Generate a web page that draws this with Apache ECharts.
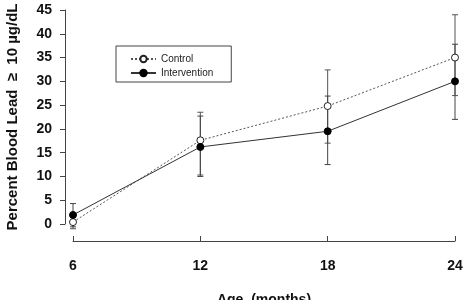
<!DOCTYPE html>
<html>
<head>
<meta charset="utf-8">
<script src="https://cdn.jsdelivr.net/npm/echarts@6/dist/echarts.min.js"></script>
<style>html,body{margin:0;padding:0;background:#fff;}#c{width:466px;height:300px;}</style>
</head>
<body>
<div id="c"></div>
<script>
var months = [6, 12, 18, 24];
var xTicks = ['6', '12', '18', '24'];
var control = [0.4, 17.6, 24.8, 35.0];
var controlLow = [-1.0, 10.3, 17.0, 27.0];
var controlHigh = [1.5, 23.5, 32.4, 44.0];
var intervention = [1.9, 16.2, 19.5, 30.0];
var interventionLow = [-0.6, 10.0, 12.5, 22.0];
var interventionHigh = [4.3, 22.7, 26.9, 37.8];

var FONT = '"Liberation Sans", Arial, Helvetica, sans-serif';

function pairs(ys) { return months.map(function (m, i) { return [m, ys[i]]; }); }
function bars(lo, hi) { return months.map(function (m, i) { return [m, lo[i], hi[i]]; }); }

function errRender(color) {
  return function (params, api) {
    var x = api.value(0);
    var p1 = api.coord([x, api.value(1)]);
    var p2 = api.coord([x, api.value(2)]);
    var w = 3;
    var st = { stroke: color, lineWidth: 1 };
    return {
      type: 'group',
      children: [
        { type: 'line', shape: { x1: p1[0], y1: p1[1], x2: p2[0], y2: p2[1] }, style: st },
        { type: 'line', shape: { x1: p1[0] - w, y1: p1[1], x2: p1[0] + w, y2: p1[1] }, style: st },
        { type: 'line', shape: { x1: p2[0] - w, y1: p2[1], x2: p2[0] + w, y2: p2[1] }, style: st }
      ]
    };
  };
}

var chart = echarts.init(document.getElementById('c'), null, { renderer: 'canvas' });
chart.setOption({
  animation: false,
  backgroundColor: '#fff',
  textStyle: { fontFamily: FONT },
  grid: { left: 73, right: 11, top: 10, bottom: 76, containLabel: false, outerBoundsMode: 'none' },
  legend: {
    left: 116, top: 46, orient: 'vertical',
    data: ['Control', 'Intervention'],
    itemWidth: 25, itemHeight: 8, itemGap: 4,
    padding: [8, 18, 4, 14],
    borderColor: '#444', borderWidth: 1,
    textStyle: { fontFamily: FONT, fontSize: 10, color: '#222' },
    selectedMode: false
  },
  xAxis: {
    type: 'value', min: 6, max: 24, interval: 6,
    offset: 17,
    axisLine: { show: true, onZero: false, lineStyle: { color: '#444', width: 1 } },
    axisTick: { show: true, inside: true, length: 5, lineStyle: { color: '#444' } },
    axisLabel: {
      margin: 18, fontSize: 14, fontWeight: 'bold', color: '#111', fontFamily: FONT,
      formatter: function (v) { var i = months.indexOf(v); return i >= 0 ? xTicks[i] : ''; }
    },
    splitLine: { show: false },
    name: 'Age  (months)', nameLocation: 'middle', nameGap: 52,
    nameTextStyle: { fontSize: 14, fontWeight: 'bold', color: '#111', fontFamily: FONT }
  },
  yAxis: {
    type: 'value', min: 0, max: 45, interval: 5,
    offset: 8,
    axisLine: { show: true, onZero: false, lineStyle: { color: '#444', width: 1 } },
    axisTick: { show: true, inside: false, length: 5, lineStyle: { color: '#444' } },
    axisLabel: { margin: 13, fontSize: 14, fontWeight: 'bold', color: '#111', fontFamily: FONT },
    splitLine: { show: false },
    name: 'Percent Blood Lead  \u2265  10 \u00b5g/dL', nameLocation: 'middle', nameGap: 45,
    nameTextStyle: { fontSize: 15, fontWeight: 'bold', color: '#111', fontFamily: FONT }
  },
  series: [
    {
      name: 'ctrlErr', type: 'custom', data: bars(controlLow, controlHigh),
      renderItem: errRender('#555'), clip: false, z: 1, encode: { x: 0, y: [1, 2] }
    },
    {
      name: 'intErr', type: 'custom', data: bars(interventionLow, interventionHigh),
      renderItem: errRender('#444'), clip: false, z: 1, encode: { x: 0, y: [1, 2] }
    },
    {
      name: 'Control', type: 'line', data: pairs(control),
      symbol: 'circle', symbolSize: 7, showSymbol: true,
      lineStyle: { color: '#555', width: 1, type: [2, 2] },
      itemStyle: { color: '#fff', borderColor: '#222', borderWidth: 1 },
      z: 3
    },
    {
      name: 'Intervention', type: 'line', data: pairs(intervention),
      symbol: 'circle', symbolSize: 7, showSymbol: true,
      lineStyle: { color: '#333', width: 1, type: 'solid' },
      itemStyle: { color: '#000', borderColor: '#000', borderWidth: 1 },
      z: 3
    }
  ]
});
</script>
</body>
</html>
